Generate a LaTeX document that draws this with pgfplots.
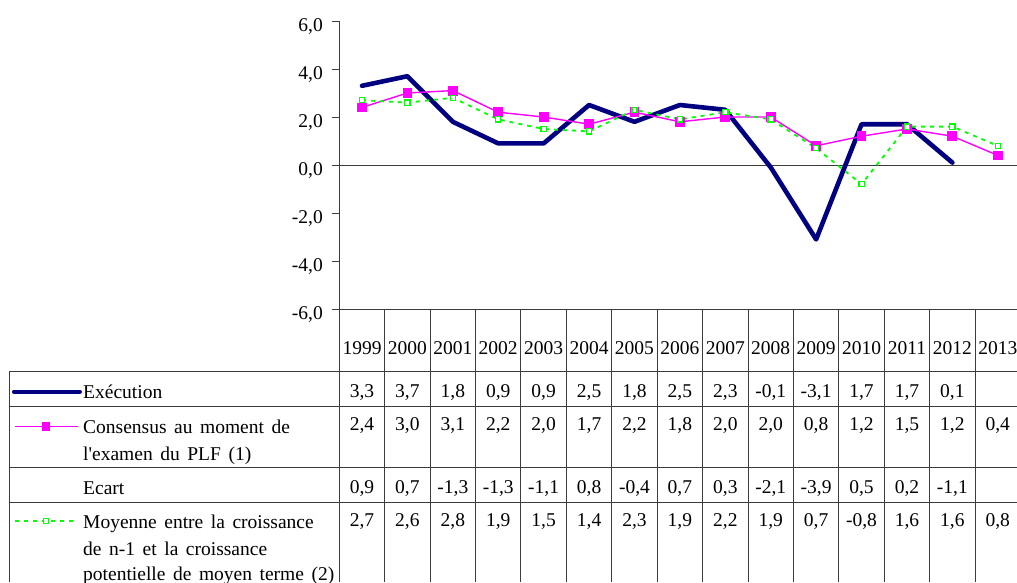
\documentclass[border=0pt]{standalone}
\usepackage{pgfplots}
\pgfplotsset{compat=1.18}
\usepackage{pgfplotstable}
\usepackage{fontspec}
\setmainfont{Liberation Serif}[WordSpace=1.55]
\definecolor{navyc}{RGB}{0,0,128}
\definecolor{magc}{RGB}{255,0,255}
\definecolor{limec}{RGB}{0,255,0}
\definecolor{axc}{RGB}{60,60,60}
\newcommand{\tf}{\fontsize{19.5}{26}\selectfont}

\pgfplotstableread{
x exe cons ecart moy
0 3.3 2.4 0.9 2.7
1 3.7 3.0 0.7 2.6
2 1.8 3.1 -1.3 2.8
3 0.9 2.2 -1.3 1.9
4 0.9 2.0 -1.1 1.5
5 2.5 1.7 0.8 1.4
6 1.8 2.2 -0.4 2.3
7 2.5 1.8 0.7 1.9
8 2.3 2.0 0.3 2.2
9 -0.1 2.0 -2.1 1.9
10 -3.1 0.8 -3.9 0.7
11 1.7 1.2 0.5 -0.8
12 1.7 1.5 0.2 1.6
13 0.1 1.2 -1.1 1.6
14 nan 0.4 nan 0.8
}\data

\begin{document}
\begin{tikzpicture}[font=\tf]
\path[use as bounding box] (-339.3pt,-273pt) rectangle (677.7pt,309pt);
\clip (-339.3pt,-273pt) rectangle (677.7pt,309pt);
\begin{axis}[
  at={(0pt,0pt)}, anchor=south west,
  width=681.2pt, height=288pt, scale only axis,
  xmin=-0.5, xmax=14.5, ymin=-6, ymax=6,
  clip=false,
  axis x line=bottom, axis y line=left,
  axis line style={-, draw=axc, line width=0.9pt},
  ytick={-6,-4,-2,0,2,4,6},
  xtick={0,...,14},
  xticklabels={1999,2000,2001,2002,2003,2004,2005,2006,2007,2008,2009,2010,2011,2012,2013},
  x tick style={draw=none},
  major tick length=7pt, tick align=outside,
  y tick style={draw=axc, line width=0.9pt},
  tick label style={font=\tf, text=black},
  yticklabel style={anchor=base east, yshift=-10.5pt, xshift=-6pt},
  xticklabel style={anchor=base, yshift=-38pt},
  /pgf/number format/fixed, /pgf/number format/fixed zerofill,
  /pgf/number format/precision=1, /pgf/number format/use comma,
  /pgf/number format/assume math mode=true,
  every node near coord/.append style={anchor=base, font=\tf, text=black, inner sep=0pt},
]
\draw[axc, line width=0.9pt] (axis cs:-0.5,0) -- (axis cs:14.5,0);
% series
\addplot[navyc, line width=4.6pt, line cap=round, line join=round, mark=none] table[x=x, y=exe] {\data};
\addplot[magc, line width=1.4pt, mark=square*, mark size=4.2pt, mark options={fill=magc, draw=magc}] table[x=x, y=cons] {\data};
\addplot[limec, line width=1.8pt, dash pattern=on 4pt off 5pt, mark=square*, mark size=2.6pt, mark options={solid, fill=white, draw=limec, line width=1.3pt}] table[x=x, y=moy] {\data};
% legend keys in table
\addplot[navyc, line width=4pt, line cap=round, mark=none] coordinates {(-7.664,-9.446) (-6.211,-9.446)};
\addplot[magc, line width=1.4pt, mark=square*, mark size=3.6pt, mark indices={2}, mark options={fill=magc}] coordinates {(-7.642,-10.903) (-6.959,-10.903) (-6.248,-10.903)};
\addplot[limec, line width=1.8pt, dash pattern=on 4pt off 5pt, mark=square*, mark size=2.4pt, mark indices={2}, mark options={solid, fill=white, line width=1.3pt}] coordinates {(-7.642,-14.833) (-6.959,-14.833) (-6.321,-14.833)};
% table values
\addplot[draw=none, mark=none, nodes near coords, point meta=explicit, restrict x to domain=0:13] table[x=x, y expr={-9.708}, meta=exe] {\data};
\addplot[draw=none, mark=none, nodes near coords, point meta=explicit] table[x=x, y expr={-11.071}, meta=cons] {\data};
\addplot[draw=none, mark=none, nodes near coords, point meta=explicit, restrict x to domain=0:13] table[x=x, y expr={-13.679}, meta=ecart] {\data};
\addplot[draw=none, mark=none, nodes near coords, point meta=explicit] table[x=x, y expr={-15.071}, meta=moy] {\data};
\end{axis}
% table grid
\foreach \k in {0,...,14} \draw[axc, line width=0.9pt] ({\k*45.41pt},0pt) -- ({\k*45.41pt},-273pt);
\foreach \yy in {-62,-97.7,-158.7,-193.3} \draw[axc, line width=0.9pt] (-329.8pt,\yy pt) -- (677.7pt,\yy pt);
\draw[axc, line width=0.9pt] (-329.8pt,-62pt) -- (-329.8pt,-273pt);
% row labels
\node[anchor=base west, inner sep=0pt] at (-256.3pt,-89.3pt) {Exécution};
\node[anchor=base west, inner sep=0pt] at (-256.3pt,-124pt) {Consensus au moment de};
\node[anchor=base west, inner sep=0pt] at (-256.3pt,-151pt) {l\textquotesingle examen du PLF (1)};
\node[anchor=base west, inner sep=0pt] at (-256.3pt,-185.3pt) {Ecart};
\node[anchor=base west, inner sep=0pt] at (-256.3pt,-219.3pt) {Moyenne entre la croissance};
\node[anchor=base west, inner sep=0pt] at (-256.3pt,-246pt) {de n-1 et la croissance};
\node[anchor=base west, inner sep=0pt] at (-256.3pt,-271pt) {potentielle de moyen terme (2)};
\end{tikzpicture}
\end{document}
